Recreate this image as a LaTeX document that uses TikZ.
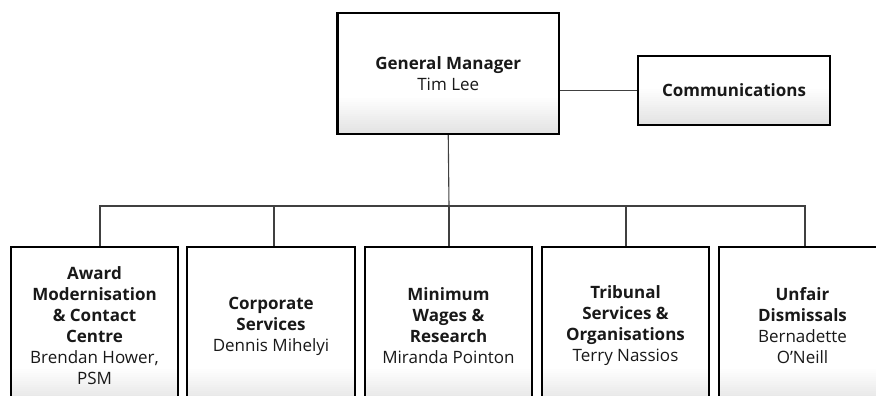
\documentclass[tikz,border=0pt]{standalone}
\usepackage{fontspec}
\setmainfont{Open Sans}
\begin{document}
\begin{tikzpicture}[x=1pt,y=-1pt,
  box/.style={draw=black, line width=2.4pt, fill=white, rectangle, align=center,
    inner sep=0pt, font=\fontsize{17}{21}\selectfont, text=black!90,
    path picture={\foreach \i in {0,...,17} {
        \pgfmathsetmacro{\c}{11*(1-\i/18)}
        \fill[black!\c] ([yshift=2*\i pt]path picture bounding box.south west)
          rectangle ([yshift=2*\i pt+2.2pt]path picture bounding box.south east);}}},
  conn/.style={draw=black!75, line width=1.1pt}]
\useasboundingbox (0,0) rectangle (876,396);
\clip (0,0) rectangle (876,396);
% top boxes
\node[box, minimum width=221.5pt, minimum height=121pt] (gm) at (448.25,73.5)
  {\textbf{General Manager}\\Tim Lee};
\node[box, minimum width=192pt, minimum height=69pt] (comm) at (734,90.5)
  {\textbf{Communications}};
% bottom boxes
\node[box, minimum width=167pt, minimum height=158pt] (b1) at (94.5,326)
  {\textbf{Award}\\\textbf{Modernisation}\\\textbf{\& Contact}\\\textbf{Centre}\\Brendan Hower,\\PSM};
\node[box, minimum width=168pt, minimum height=158pt] (b2) at (271,326)
  {\textbf{Corporate}\\\textbf{Services}\\Dennis Mihelyi};
\node[box, minimum width=167pt, minimum height=158pt] (b3) at (448.5,326)
  {\textbf{Minimum}\\\textbf{Wages \&}\\\textbf{Research}\\Miranda Pointon};
\node[box, minimum width=167pt, minimum height=158pt] (b4) at (625.5,326)
  {\textbf{Tribunal}\\\textbf{Services \&}\\\textbf{Organisations}\\Terry Nassios};
\node[box, minimum width=167pt, minimum height=158pt] (b5) at (802.5,326)
  {\textbf{Unfair}\\\textbf{Dismissals}\\Bernadette\\O’Neill};
% connectors
\coordinate (bus) at (449,206);
\draw[conn] (gm.east |- comm.west) -- (comm.west);
\draw[conn] (gm.south) -- (bus);
\draw[conn] ([xshift=5.5pt]b1.north) |- ([xshift=2.5pt]b5.north |- bus) -- ([xshift=2.5pt]b5.north);
\draw[conn] (bus) -- ([xshift=0.5pt]b3.north);
\draw[conn] ([xshift=3pt]b2.north) -- ([xshift=3pt]b2.north |- bus);
\draw[conn] ([xshift=0.5pt]b4.north) -- ([xshift=0.5pt]b4.north |- bus);
\end{tikzpicture}
\end{document}
